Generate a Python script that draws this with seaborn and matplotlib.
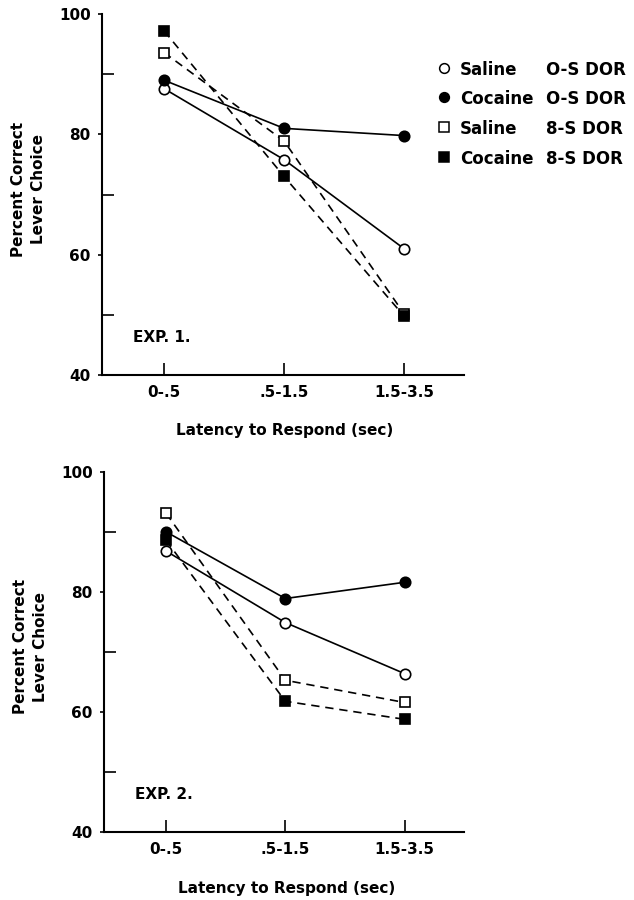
import matplotlib
matplotlib.use("Agg")
import matplotlib.pyplot as plt
from matplotlib.lines import Line2D
from matplotlib.ticker import FixedLocator
import seaborn as sns

latency = ["0-.5", ".5-1.5", "1.5-3.5"]

# Exp. 1
exp1_saline_os = [87.6, 75.8, 61.0]
exp1_cocaine_os = [89.0, 81.0, 79.8]
exp1_saline_8s = [93.6, 78.9, 50.2]
exp1_cocaine_8s = [97.2, 73.0, 49.8]

# Exp. 2
exp2_saline_os = [86.8, 74.9, 66.4]
exp2_cocaine_os = [90.0, 78.9, 81.6]
exp2_saline_8s = [93.1, 65.3, 61.6]
exp2_cocaine_8s = [88.6, 61.8, 58.8]

group_names = ["Saline", "Cocaine", "Saline", "Cocaine"]
dor_names = ["O-S DOR", "O-S DOR", "8-S DOR", "8-S DOR"]

sns.set_theme(style="ticks")
plt.rcParams["font.family"] = ["DejaVu Sans"]
plt.rcParams["font.weight"] = "bold"
plt.rcParams["axes.labelweight"] = "bold"
plt.rcParams["text.color"] = "black"
plt.rcParams["axes.labelcolor"] = "black"

# marker, face colour, line style for each series
styles = [
    ("o", "white", "-"),
    ("o", "black", "-"),
    ("s", "white", (0, (5, 3.5))),
    ("s", "black", (0, (5, 3.5))),
]


def draw_panel(ax, series, tag):
    for values, (mk, face, ls) in zip(series, styles):
        sns.lineplot(x=latency, y=values, ax=ax, sort=False, color="black",
                     linewidth=1.2, linestyle=ls, marker=mk, markersize=7.5,
                     markerfacecolor=face, markeredgecolor="black",
                     markeredgewidth=1.2)
    ax.set_xlim(-0.52, 2.5)
    ax.set_ylim(40, 100)
    sns.despine(ax=ax)
    for s in ("left", "bottom"):
        ax.spines[s].set_linewidth(1.5)
        ax.spines[s].set_color("black")
    ax.set_yticks([40, 60, 80, 100])
    ax.yaxis.set_minor_locator(FixedLocator([50, 70, 90, 100]))
    ax.tick_params(axis="y", which="major", direction="out", length=3,
                   width=1.2, pad=5, labelsize=11, colors="black")
    ax.tick_params(axis="y", which="minor", direction="in", length=8.5,
                   width=1.2, left=True, color="black")
    ax.tick_params(axis="x", which="major", direction="in", length=8.5,
                   width=1.2, pad=7, labelsize=11, colors="black")
    for lab in ax.get_xticklabels() + ax.get_yticklabels():
        lab.set_fontweight("bold")
    ax.set_xlabel("Latency to Respond (sec)", fontsize=11, va="center")
    ax.xaxis.set_label_coords(0.506, -0.155)
    ax.set_ylabel("Percent Correct\nLever Choice", fontsize=11,
                  va="center", linespacing=1.4)
    ax.yaxis.set_label_coords(-0.203, 0.515)
    ax.text(0.087, 0.105, tag, transform=ax.transAxes, fontsize=11,
            fontweight="bold", va="center", ha="left")
    ax.set_facecolor("white")


fig = plt.figure(figsize=(6.34, 9), dpi=100)
ax1 = fig.add_axes([0.1604, 0.5833, 0.5715, 0.4011])
ax2 = fig.add_axes([0.164, 0.0752, 0.5683, 0.4007])

draw_panel(ax1, [exp1_saline_os, exp1_cocaine_os, exp1_saline_8s, exp1_cocaine_8s], "EXP. 1.")
draw_panel(ax2, [exp2_saline_os, exp2_cocaine_os, exp2_saline_8s, exp2_cocaine_8s], "EXP. 2.")

# legend with two aligned text columns
row_y = [68, 97, 127, 157]
for (mk, face, _), name, dor, y in zip(styles, group_names, dor_names, row_y):
    fy = 1 - y / 900
    fig.add_artist(Line2D([444 / 634], [fy], transform=fig.transFigure,
                          marker=mk, markersize=7, markerfacecolor=face,
                          markeredgecolor="black", markeredgewidth=1.1,
                          linestyle="none"))
    fig.text(460 / 634, fy, name, fontsize=12, fontweight="bold",
             va="center_baseline", ha="left")
    fig.text(546 / 634, fy, dor, fontsize=12, fontweight="bold",
             va="center_baseline", ha="left")

fig.savefig("out.png", dpi=100, facecolor="white")
